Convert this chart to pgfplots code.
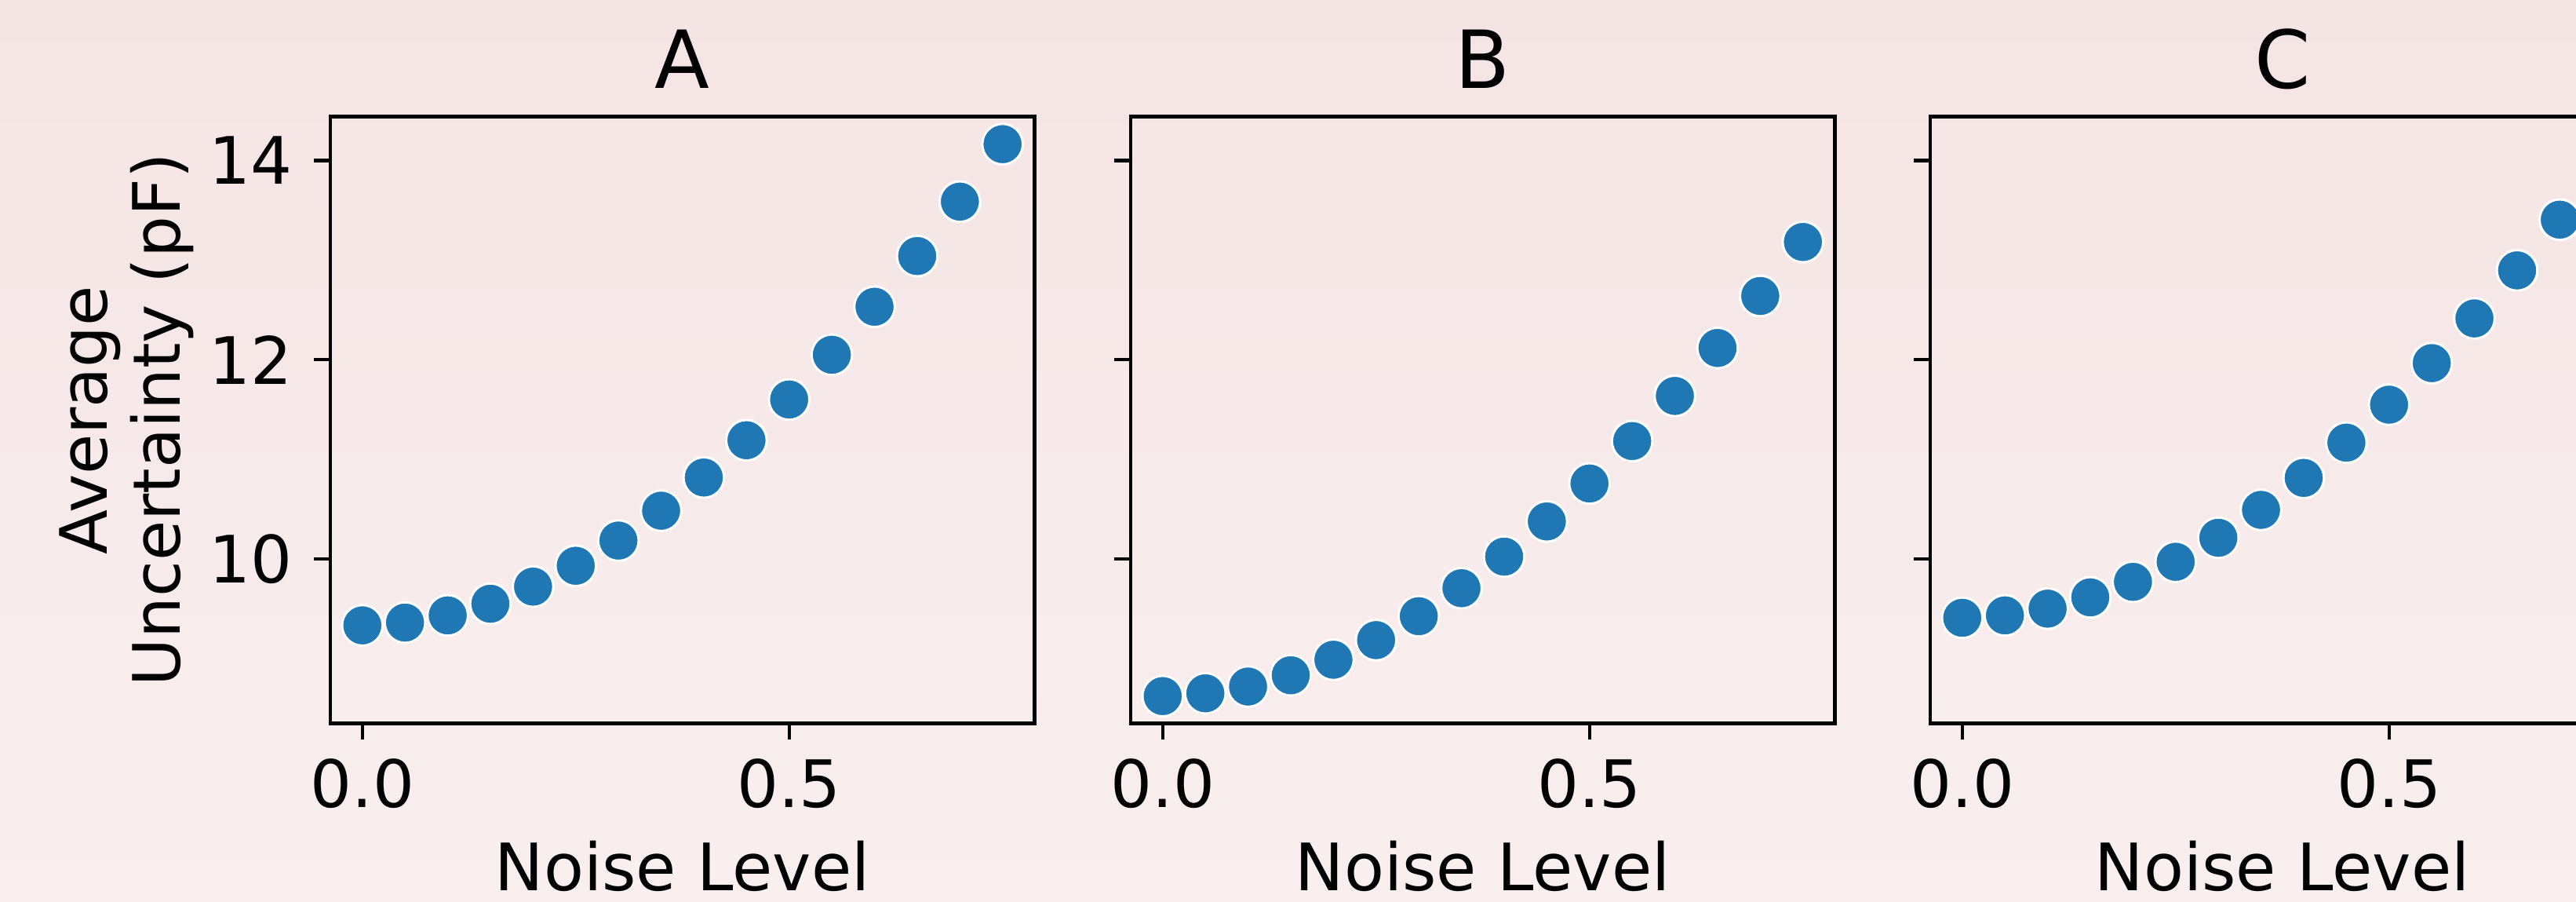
\documentclass[border=0pt]{standalone}
\usepackage{pgfplots}
\usepackage{pgfplotstable}
\pgfplotsset{compat=1.18}
\usepackage{fontspec}
\setmainfont{DejaVu Sans}
\definecolor{bgtop}{RGB}{245,228,228}
\definecolor{bgbot}{RGB}{249,239,239}
\definecolor{mplblue}{RGB}{31,119,180}

\pgfplotstableread{
x    A      B      C
0.00 9.334  8.624  9.410
0.05 9.362  8.652  9.434
0.10 9.434  8.720  9.502
0.15 9.551  8.833  9.615
0.20 9.723  8.989  9.771
0.25 9.932  9.186  9.972
0.30 10.185 9.426  10.213
0.35 10.485 9.707  10.493
0.40 10.818 10.024 10.814
0.45 11.192 10.377 11.168
0.50 11.601 10.758 11.549
0.55 12.050 11.184 11.966
0.60 12.532 11.637 12.415
0.65 13.041 12.118 12.897
0.70 13.587 12.640 13.406
0.75 14.164 13.182 13.950
}\data

\pgfplotsset{
  panel/.style={
    anchor=south west,
    scale only axis, width=215.4pt, height=185.5pt,
    xmin=-0.0375, xmax=0.7875, ymin=8.35, ymax=14.44,
    xtick={0,0.5}, xticklabels={0.0,0.5}, ytick={10,12,14},
    tick align=outside, tick pos=left, major tick length=5pt,
    tick style={black, line width=1pt},
    axis line style={line width=1.1pt},
    /pgf/number format/assume math mode=true,
    ticklabel style={font=\fontsize{20}{24}\selectfont},
    xticklabel style={anchor=base, inner sep=0pt, yshift=-20.8pt},
    yticklabel style={anchor=east, inner sep=0pt, xshift=-6.5pt},
    xlabel={Noise Level},
    xlabel style={at={(axis description cs:0.5,-0.276)}, anchor=base, inner sep=0pt, font=\fontsize{20}{24}\selectfont},
    title style={at={(axis description cs:0.5,1.014)}, anchor=base, inner sep=0pt, font=\fontsize{24.5}{29}\selectfont},
  },
  pts/.style={only marks, mark=*, mark size=6.2pt, mark options={fill=mplblue, draw=white, line width=0.72pt}},
}

\begin{document}
\begin{tikzpicture}
\useasboundingbox (0,0) rectangle (787.92pt,275.76pt);
\clip (0,0) rectangle (787.92pt,275.76pt);
\shade[top color=bgtop, bottom color=bgbot] (0,0) rectangle (787.92pt,275.76pt);

\begin{axis}[panel, at={(101.04pt,54.6pt)}, title={A},
  ylabel={Average\\Uncertainty (pF)},
  ylabel style={at={(axis description cs:-0.193,0.5)}, anchor=south, align=center, inner sep=0pt, font=\fontsize{20}{22.4}\selectfont}]
\addplot[pts] table[x=x, y=A] {\data};
\end{axis}

\begin{axis}[panel, at={(345.84pt,54.6pt)}, title={B}, yticklabels={}]
\addplot[pts] table[x=x, y=B] {\data};
\end{axis}

\begin{axis}[panel, at={(590.4pt,54.6pt)}, title={C}, yticklabels={}]
\addplot[pts] table[x=x, y=C] {\data};
\end{axis}
\end{tikzpicture}
\end{document}
